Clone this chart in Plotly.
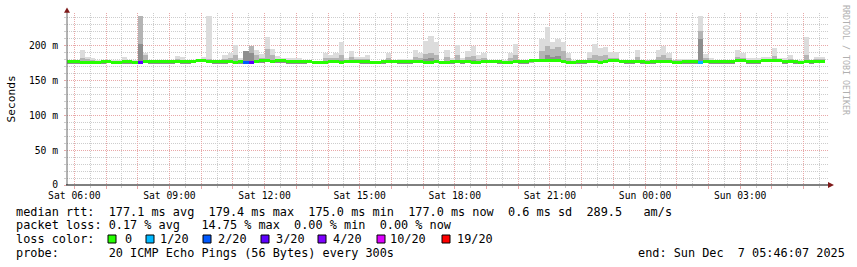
import pandas as pd
import plotly.graph_objects as go

# ---------------- data (10-minute consolidated samples, values in ms) ----------------
smoke_max = [
    180, 178, 178, 194, 184, 182, 179, 179, 179, 179,
    179, 184, 179, 179, 243, 190, 178, 178, 178, 178,
    179, 185, 184, 178, 178, 178, 184, 243, 180, 179,
    186, 190, 201, 182, 193, 200, 194, 188, 213, 195,
    185, 182, 182, 182, 182, 178, 178, 178, 178, 189,
    187, 190, 205, 182, 193, 184, 184, 186, 178, 178,
    178, 190, 180, 181, 181, 181, 194, 190, 207, 214,
    205, 178, 194, 182, 201, 182, 193, 200, 186, 190,
    178, 179, 179, 179, 189, 203, 180, 180, 178, 178,
    209, 227, 205, 209, 206, 189, 179, 179, 179, 191,
    202, 197, 198, 191, 191, 178, 178, 178, 194, 180,
    180, 180, 194, 199, 190, 180, 181, 181, 181, 181,
    243, 188, 182, 179, 179, 179, 179, 194, 189, 182,
    182, 182, 184, 184, 197, 182, 182, 186, 179, 179,
    212, 179, 184, 184,
]
smoke_mid = [
    178, 178, 178, 182, 181, 180, 178, 178, 178, 178,
    178, 180, 178, 178, 243, 186, 178, 178, 178, 178,
    178, 181, 180, 178, 178, 178, 180, 181, 179, 178,
    181, 183, 186, 180, 193, 200, 186, 183, 195, 186,
    181, 180, 180, 180, 180, 178, 178, 178, 178, 182,
    182, 183, 186, 180, 184, 181, 181, 181, 178, 178,
    178, 182, 179, 180, 180, 180, 184, 183, 188, 190,
    187, 178, 184, 180, 186, 180, 184, 185, 181, 182,
    178, 178, 178, 178, 182, 186, 179, 179, 178, 178,
    192, 200, 195, 198, 192, 183, 178, 178, 178, 183,
    186, 185, 186, 183, 183, 178, 178, 178, 184, 179,
    179, 179, 184, 186, 183, 179, 180, 180, 180, 180,
    221, 182, 180, 178, 178, 178, 178, 184, 183, 180,
    180, 180, 181, 181, 185, 180, 180, 181, 178, 178,
    186, 178, 181, 181,
]
smoke_low = [
    177.5, 177.5, 177.5, 178.0, 177.5, 177.5, 177.0, 177.5, 178.0, 177.5,
    177.5, 177.5, 177.5, 177.5, 202.0, 178.5, 177.5, 177.5, 177.5, 177.5,
    177.5, 178.0, 177.5, 177.5, 177.5, 179.5, 179.5, 178.0, 177.5, 177.5,
    177.5, 178.0, 178.5, 177.5, 193.0, 190.0, 178.5, 179.0, 180.0, 179.0,
    179.0, 179.0, 177.5, 177.5, 177.5, 177.5, 178.5, 177.5, 177.5, 177.5,
    178.0, 178.0, 179.0, 178.5, 179.0, 179.0, 177.5, 177.5, 177.5, 177.5,
    177.5, 178.5, 178.5, 177.5, 177.5, 177.5, 178.0, 178.0, 181.0, 182.0,
    179.5, 177.5, 178.5, 177.5, 179.0, 177.5, 178.5, 179.0, 177.5, 178.0,
    178.5, 178.5, 177.5, 177.5, 178.0, 179.0, 177.5, 177.5, 179.5, 180.0,
    181.0, 186.0, 184.0, 185.0, 180.0, 178.0, 177.5, 177.5, 177.5, 178.0,
    179.0, 178.5, 179.0, 179.5, 179.5, 178.5, 177.5, 177.5, 178.0, 177.5,
    177.5, 177.5, 178.5, 179.0, 178.0, 177.5, 177.5, 177.5, 177.5, 177.5,
    209.0, 178.0, 177.5, 177.5, 177.5, 177.5, 177.5, 179.0, 179.0, 177.5,
    177.5, 177.5, 179.0, 179.0, 179.5, 179.0, 177.5, 178.0, 177.5, 177.5,
    178.0, 177.5, 178.0, 178.0,
]
smoke_min = [
    175.0, 175.0, 175.0, 175.0, 175.0, 174.5, 174.0, 175.0, 175.5, 175.0,
    175.0, 175.0, 175.0, 175.0, 174.5, 175.0, 175.0, 175.0, 175.0, 175.0,
    175.0, 175.0, 175.0, 175.0, 175.5, 177.0, 177.0, 175.0, 175.0, 175.0,
    175.0, 175.0, 174.5, 175.0, 174.5, 174.5, 175.0, 176.5, 176.5, 175.0,
    176.5, 176.5, 175.0, 175.0, 175.0, 175.0, 176.0, 174.5, 174.5, 174.5,
    175.0, 175.0, 174.5, 176.0, 176.0, 176.0, 175.0, 175.0, 174.5, 174.5,
    175.0, 176.0, 176.0, 175.0, 175.0, 175.0, 175.0, 175.0, 174.5, 174.5,
    175.5, 174.5, 174.5, 175.0, 175.0, 175.0, 175.0, 174.5, 174.5, 175.0,
    176.0, 176.0, 175.0, 174.5, 174.5, 175.0, 175.0, 175.0, 176.5, 177.0,
    177.5, 177.0, 177.5, 176.5, 175.0, 174.5, 174.5, 175.0, 175.0, 175.0,
    175.0, 174.5, 175.0, 176.5, 176.5, 176.0, 175.0, 175.0, 175.0, 175.0,
    174.5, 175.0, 175.0, 175.0, 175.0, 174.5, 174.5, 175.0, 175.0, 175.0,
    174.5, 175.0, 175.0, 175.0, 175.0, 175.0, 175.0, 176.0, 176.0, 175.0,
    175.0, 175.0, 176.0, 176.0, 176.0, 176.0, 175.0, 175.0, 175.0, 174.5,
    175.0, 175.0, 175.0, 175.0,
]
median_ms = [
    176.8, 176.8, 176.8, 176.5, 176.5, 176.5, 175.5, 176.8, 177.5, 176.5,
    176.5, 176.8, 176.8, 176.5, 176.0, 176.8, 176.8, 176.8, 176.8, 176.8,
    176.8, 176.8, 176.8, 176.8, 177.0, 178.8, 178.8, 176.8, 176.8, 176.8,
    176.8, 176.8, 175.8, 176.8, 176.5, 176.5, 176.8, 178.5, 178.5, 176.8,
    178.5, 178.5, 176.8, 176.8, 176.8, 176.8, 177.8, 176.5, 176.5, 176.5,
    176.8, 176.8, 176.5, 178.0, 178.0, 178.0, 176.8, 176.8, 176.5, 176.5,
    176.8, 177.8, 177.8, 176.8, 176.8, 176.8, 176.8, 176.8, 176.5, 176.5,
    177.5, 176.5, 176.5, 176.8, 176.8, 176.8, 176.8, 176.5, 176.5, 176.8,
    177.8, 177.8, 176.8, 176.5, 176.5, 176.8, 176.8, 176.8, 178.5, 179.0,
    179.4, 179.0, 179.4, 178.5, 176.8, 176.5, 176.5, 176.8, 176.8, 176.8,
    176.8, 176.5, 176.8, 178.5, 178.5, 177.8, 176.8, 176.8, 176.8, 176.8,
    176.5, 176.8, 176.8, 176.8, 176.8, 176.5, 176.5, 176.8, 176.8, 176.8,
    176.5, 176.8, 176.8, 176.8, 176.8, 176.8, 176.8, 178.2, 178.2, 176.8,
    176.8, 176.8, 178.2, 178.2, 178.2, 178.2, 176.8, 176.8, 176.8, 176.5,
    176.8, 176.8, 176.8, 176.8,
]
loss = [0] * 14 + [3] + [0] * 19 + [2, 3] + [0] * 84 + [1] + [0] * 23

loss_levels = [0, 1, 2, 3, 4, 10, 19]
loss_labels = ["0", "1/20", "2/20", "3/20", "4/20", "10/20", "19/20"]
loss_colors = ["#26ff00", "#00b8ff", "#0059ff", "#5e00ff", "#7e00ff", "#dd00ff", "#ff0000"]

y_tickvals = [0, 50, 100, 150, 200]
y_ticktext = ["0", "50 m", "100 m", "150 m", "200 m"]

stats_line = "median rtt:  177.1 ms avg  179.4 ms max  175.0 ms min  177.0 ms now  0.6 ms sd  289.5   am/s"
loss_line = "packet loss: 0.17 % avg   14.75 % max  0.00 % min  0.00 % now"
probe_line = "probe:       20 ICMP Echo Pings (56 Bytes) every 300s"
end_line = "end: Sun Dec  7 05:46:07 2025"
watermark = "RRDTOOL / TOBI OETIKER"

# ---------------- geometry helpers ----------------
W, H = 857, 267
L, R, T, B = 67, 828, 13, 185
FONT = "DejaVu Sans Mono"


def px(x):
    return (x - L) / (R - L)


def py(y):
    return (B - y) / (B - T)


start = pd.Timestamp("2025-12-06 05:46:07")
end = pd.Timestamp("2025-12-07 05:46:07")
times = pd.date_range("2025-12-06 05:45:00", periods=len(median_ms), freq="10min")
step_ms = 600000

fig = go.Figure()


def smoke(top, color):
    fig.add_trace(go.Bar(
        x=times, y=[t - b for t, b in zip(top, smoke_min)], base=smoke_min,
        width=step_ms, marker=dict(color=color, line=dict(width=0)),
        hoverinfo="skip"))


smoke(smoke_max, "#dcdcdc")
smoke(smoke_mid, "#b4b4b4")
smoke(smoke_low, "#8e8e8e")


def loss_color(v):
    c = loss_colors[0]
    for lvl, col in zip(loss_levels, loss_colors):
        if v >= lvl:
            c = col
    return c


band = 2.15
fig.add_trace(go.Bar(
    x=times, y=[2 * band] * len(median_ms), base=[m - band for m in median_ms],
    width=step_ms, marker=dict(color=[loss_color(v) for v in loss], line=dict(width=0)),
    hoverinfo="skip"))

hours = pd.date_range("2025-12-06 06:00", "2025-12-07 05:00", freq="1h")
halfs = pd.date_range("2025-12-06 06:30", "2025-12-07 05:30", freq="1h")
xt_text = [t.strftime("%a %H:%M") if t.hour % 3 == 0 else "" for t in hours]

MAJ = "#e8a8a8"
MIN = "#cdcdcd"

fig.update_layout(
    width=W, height=H, margin=dict(l=L, r=W - R, t=T, b=H - B, pad=0),
    paper_bgcolor="white", plot_bgcolor="white", showlegend=False,
    barmode="overlay", bargap=0,
    font=dict(family=FONT, size=10, color="#000"),
    xaxis=dict(
        type="date", range=[start, end], tickmode="array",
        tickvals=list(hours), ticktext=xt_text,
        showgrid=True, gridcolor=MAJ, griddash="1px,1px", gridwidth=1,
        ticks="outside", ticklen=3, tickcolor=MAJ, tickwidth=1,
        tickfont=dict(family=FONT, size=9.7, color="#000"),
        minor=dict(tickmode="array", tickvals=list(halfs), showgrid=True,
                   gridcolor=MIN, griddash="1px,1px", ticks="outside",
                   ticklen=2, tickcolor=MIN),
        showline=False, zeroline=False, fixedrange=True, ticklabelstandoff=-2,
    ),
    yaxis=dict(
        range=[0, 247], tickmode="array", tickvals=y_tickvals, ticktext=y_ticktext,
        showgrid=True, gridcolor=MAJ, griddash="1px,1px", gridwidth=1,
        ticks="outside", ticklen=2, tickcolor=MAJ,
        tickfont=dict(family=FONT, size=9.7, color="#000"),
        minor=dict(dtick=10, showgrid=True, gridcolor=MIN, griddash="1px,1px",
                   ticks="outside", ticklen=2, tickcolor=MIN),
        showline=False, zeroline=False, fixedrange=True, ticklabelstandoff=4,
    ),
)

shapes = []
# axes lines + arrows
shapes.append(dict(type="line", xref="paper", yref="paper", x0=px(67), x1=px(67),
                   y0=py(185), y1=py(10), line=dict(color="#666666", width=1)))
shapes.append(dict(type="line", xref="paper", yref="paper", x0=px(66), x1=px(830),
                   y0=py(185), y1=py(185), line=dict(color="#000000", width=1)))
shapes.append(dict(type="path", xref="paper", yref="paper",
                   path=f"M {px(64)} {py(12.7)} L {px(70)} {py(12.7)} L {px(67)} {py(7.5)} Z",
                   fillcolor="#7f1a1a", line=dict(width=0)))
shapes.append(dict(type="path", xref="paper", yref="paper",
                   path=f"M {px(828)} {py(182)} L {px(828)} {py(188)} L {px(834)} {py(185)} Z",
                   fillcolor="#7f1a1a", line=dict(width=0)))

annotations = []


def text(x, y, s, size=11.85, anchor="left", color="#000", angle=0):
    annotations.append(dict(
        x=px(x), y=py(y), xref="paper", yref="paper", text=s, showarrow=False,
        xanchor=anchor, yanchor="middle", textangle=angle,
        borderpad=0, borderwidth=0,
        font=dict(family=FONT, size=size, color=color)))


text(11, 99.5, "Seconds", size=11.2, anchor="center", angle=-90)
text(846, 60, watermark, size=8.3, anchor="center", color="#b0b0b0", angle=90)
text(16, 211.5, stats_line)
text(16, 225.2, loss_line)
text(16, 239.2, "loss color:")
text(16, 253, probe_line)
text(638, 253, end_line)

sq_x = [108, 146, 203, 261, 318, 377, 442]
lab_x = [125, 160, 218, 276, 333, 390, 457]
for sx, lx, col, lab in zip(sq_x, lab_x, loss_colors, loss_labels):
    shapes.append(dict(type="rect", xref="paper", yref="paper",
                       x0=px(sx), x1=px(sx + 8), y0=py(235), y1=py(243),
                       fillcolor=col, line=dict(color="#000", width=1)))
    text(lx, 239.2, lab)

fig.update_layout(shapes=shapes, annotations=annotations)
fig.write_html("out.html")
